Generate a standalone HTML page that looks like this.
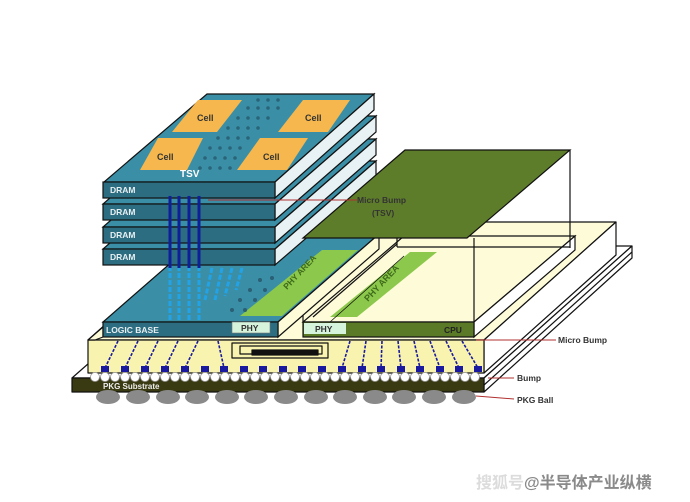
<!DOCTYPE html>
<html><head><meta charset="utf-8"><style>
html,body{margin:0;padding:0;background:#fff;width:690px;height:502px;overflow:hidden}
svg{display:block}
text{font-family:"Liberation Sans",sans-serif;font-weight:bold}
</style></head><body>
<svg width="690" height="502" viewBox="0 0 690 502" xmlns="http://www.w3.org/2000/svg">
<g stroke="#111" stroke-width="1.2" stroke-linejoin="round">
<polygon points="72,378 484,378 632,246 222,246" fill="#fff"/>
<polygon points="484,378 632,246 632,258 484,392" fill="#fff"/>
<line x1="484" y1="385" x2="632" y2="252"/>
<rect x="72" y="378" width="412" height="14" fill="#3a3a12"/>
<polygon points="88,340 484,340 616,222 220,222" fill="#fdfbd8"/>
<polygon points="484,340 616,222 616,255 484,373" fill="#fff"/>
<rect x="88" y="340" width="396" height="33" fill="#f8f3ae"/>
<polygon points="88,340 103,327 103,337 95,340" fill="#fdfbd8"/>
<rect x="232" y="343" width="96" height="15" fill="#f8f3ae"/>
<rect x="240" y="346" width="82" height="8" fill="none"/>
<rect x="252" y="350" width="66" height="5" fill="#111"/>
</g>
<g stroke="#1a1aa0" stroke-width="1.6" stroke-dasharray="3,1.5">
<line x1="118" y1="341" x2="105" y2="368"/><line x1="138" y1="341" x2="125" y2="368"/>
<line x1="158" y1="341" x2="145" y2="368"/><line x1="178" y1="341" x2="165" y2="368"/>
<line x1="198" y1="341" x2="185" y2="368"/><line x1="218" y1="341" x2="224" y2="368"/>
<line x1="350" y1="341" x2="342" y2="368"/><line x1="366" y1="341" x2="362" y2="368"/>
<line x1="382" y1="341" x2="381" y2="368"/><line x1="398" y1="341" x2="401" y2="368"/>
<line x1="414" y1="341" x2="420" y2="368"/><line x1="430" y1="341" x2="440" y2="368"/>
<line x1="446" y1="341" x2="459" y2="368"/><line x1="462" y1="341" x2="478" y2="368"/>
</g>
<g fill="#1a1aa0">
<rect x="101" y="366" width="8" height="6"/><rect x="121" y="366" width="8" height="6"/><rect x="141" y="366" width="8" height="6"/><rect x="161" y="366" width="8" height="6"/><rect x="181" y="366" width="8" height="6"/><rect x="201" y="366" width="8" height="6"/><rect x="220" y="366" width="8" height="6"/><rect x="240" y="366" width="8" height="6"/><rect x="259" y="366" width="8" height="6"/><rect x="279" y="366" width="8" height="6"/><rect x="298" y="366" width="8" height="6"/><rect x="318" y="366" width="8" height="6"/><rect x="338" y="366" width="8" height="6"/><rect x="358" y="366" width="8" height="6"/><rect x="377" y="366" width="8" height="6"/><rect x="397" y="366" width="8" height="6"/><rect x="416" y="366" width="8" height="6"/><rect x="436" y="366" width="8" height="6"/><rect x="455" y="366" width="8" height="6"/><rect x="474" y="366" width="8" height="6"/>
</g>
<g fill="#fff" stroke="#999" stroke-width="0.8">
<circle cx="95" cy="377" r="4.5"/><circle cx="105" cy="377" r="4.5"/><circle cx="115" cy="377" r="4.5"/><circle cx="125" cy="377" r="4.5"/><circle cx="135" cy="377" r="4.5"/><circle cx="145" cy="377" r="4.5"/><circle cx="155" cy="377" r="4.5"/><circle cx="165" cy="377" r="4.5"/><circle cx="175" cy="377" r="4.5"/><circle cx="185" cy="377" r="4.5"/><circle cx="195" cy="377" r="4.5"/><circle cx="205" cy="377" r="4.5"/><circle cx="215" cy="377" r="4.5"/><circle cx="225" cy="377" r="4.5"/><circle cx="235" cy="377" r="4.5"/><circle cx="245" cy="377" r="4.5"/><circle cx="255" cy="377" r="4.5"/><circle cx="265" cy="377" r="4.5"/><circle cx="275" cy="377" r="4.5"/><circle cx="285" cy="377" r="4.5"/><circle cx="295" cy="377" r="4.5"/><circle cx="305" cy="377" r="4.5"/><circle cx="315" cy="377" r="4.5"/><circle cx="325" cy="377" r="4.5"/><circle cx="335" cy="377" r="4.5"/><circle cx="345" cy="377" r="4.5"/><circle cx="355" cy="377" r="4.5"/><circle cx="365" cy="377" r="4.5"/><circle cx="375" cy="377" r="4.5"/><circle cx="385" cy="377" r="4.5"/><circle cx="395" cy="377" r="4.5"/><circle cx="405" cy="377" r="4.5"/><circle cx="415" cy="377" r="4.5"/><circle cx="425" cy="377" r="4.5"/><circle cx="435" cy="377" r="4.5"/><circle cx="445" cy="377" r="4.5"/><circle cx="455" cy="377" r="4.5"/><circle cx="465" cy="377" r="4.5"/><circle cx="475" cy="377" r="4.5"/>
</g>
<g fill="#8a8a8a">
<ellipse cx="108" cy="397" rx="12" ry="7"/><ellipse cx="138" cy="397" rx="12" ry="7"/><ellipse cx="168" cy="397" rx="12" ry="7"/><ellipse cx="197" cy="397" rx="12" ry="7"/><ellipse cx="227" cy="397" rx="12" ry="7"/><ellipse cx="256" cy="397" rx="12" ry="7"/><ellipse cx="286" cy="397" rx="12" ry="7"/><ellipse cx="316" cy="397" rx="12" ry="7"/><ellipse cx="345" cy="397" rx="12" ry="7"/><ellipse cx="375" cy="397" rx="12" ry="7"/><ellipse cx="404" cy="397" rx="12" ry="7"/><ellipse cx="434" cy="397" rx="12" ry="7"/><ellipse cx="464" cy="397" rx="12" ry="7"/>
</g>
<text x="103" y="389" font-size="8" fill="#eee">PKG Substrate</text>

<g stroke="#111" stroke-width="1.2">
<polygon points="303,322 474,322 575,236 404,236" fill="#fdfbd8"/>
<polygon points="474,322 575,236 575,250 474,337" fill="#fff"/>
<polygon points="330,317 357,317 437,252 410,252" fill="#8cc84b" stroke="none"/>
<rect x="303" y="322" width="171" height="15" fill="#5a7a28"/>
<rect x="304" y="323" width="42" height="11" fill="#d6f3dc" stroke="none"/>
<line x1="313" y1="317" x2="397" y2="244"/>
<line x1="330" y1="322" x2="404" y2="256" stroke-width="0.8"/>
<line x1="303" y1="238" x2="303" y2="322"/>
<line x1="474" y1="238" x2="474" y2="322"/>
<line x1="570" y1="150" x2="570" y2="248"/>
<line x1="397" y1="247" x2="570" y2="247"/>
<line x1="397" y1="238" x2="397" y2="247"/>
</g>
<text x="315" y="332" font-size="8.5" fill="#333">PHY</text>
<text x="444" y="333" font-size="8.5" fill="#222">CPU</text>
<text x="0" y="0" font-size="9" fill="#3e6a1c" transform="translate(368,302) rotate(-47)">PHY AREA</text>

<g stroke="#111" stroke-width="1.2">
<polygon points="103,322 278,322 379,234 204,234" fill="#3a8ea6"/>
<polygon points="278,322 379,234 379,249 278,337" fill="#fdfbd8"/>
<polygon points="240,316 282,316 358,250 322,250" fill="#8cc84b" stroke="none"/>
<rect x="103" y="322" width="175" height="15" fill="#2d6d82"/>
<rect x="232" y="322" width="38" height="11" fill="#d6f3dc" stroke="#777" stroke-width="0.6"/>
</g>
<text x="0" y="0" font-size="8.5" fill="#3e6a1c" transform="translate(287,290) rotate(-47)">PHY AREA</text>
<text x="106" y="333" font-size="8.5" fill="#e8f0f2">LOGIC  BASE</text>
<text x="241" y="331" font-size="8.5" fill="#333">PHY</text>
<g stroke="#22a3e8" stroke-width="3" stroke-dasharray="5,2">
<line x1="170" y1="266" x2="170" y2="320"/><line x1="179" y1="266" x2="179" y2="320"/><line x1="189" y1="266" x2="189" y2="320"/><line x1="199" y1="266" x2="199" y2="320"/>
<line x1="212" y1="268" x2="205" y2="300"/><line x1="222" y1="268" x2="215" y2="300"/><line x1="232" y1="268" x2="225" y2="296"/><line x1="242" y1="268" x2="236" y2="290"/>
</g>
<g fill="#2a5f75">
<circle cx="240" cy="300" r="2"/><circle cx="250" cy="290" r="2"/><circle cx="260" cy="280" r="2"/><circle cx="232" cy="310" r="2"/><circle cx="245" cy="310" r="2"/><circle cx="255" cy="300" r="2"/><circle cx="265" cy="290" r="2"/><circle cx="272" cy="278" r="2"/>
</g>

<g stroke="#111" stroke-width="1.2">
<polygon points="103,249 275,249 376,161 204,161" fill="#3a8ea6"/>
<polygon points="275,249 376,161 376,178 275,265" fill="#e8f2f5"/>
<rect x="103" y="249" width="172" height="16" fill="#2d6d82"/>
<polygon points="103,227 275,227 376,139 204,139" fill="#3a8ea6"/>
<polygon points="275,227 376,139 376,155 275,243" fill="#e8f2f5"/>
<rect x="103" y="227" width="172" height="16" fill="#2d6d82"/>
<polygon points="103,204 275,204 376,116 204,116" fill="#3a8ea6"/>
<polygon points="275,204 376,116 376,132 275,220" fill="#e8f2f5"/>
<rect x="103" y="204" width="172" height="16" fill="#2d6d82"/>
<polygon points="104,182 275,182 374,94 207,94" fill="#3a8ea6"/>
<polygon points="275,182 374,94 374,110 275,198" fill="#e8f2f5"/>
<rect x="103" y="182" width="172" height="16" fill="#2d6d82"/>
</g>
<g fill="#f5b74e">
<polygon points="140,170 187,170 203,138 158,138"/>
<polygon points="172,132 217,132 242,100 198,100"/>
<polygon points="237,170 287,170 308,138 260,138"/>
<polygon points="278,132 328,132 350,100 303,100"/>
</g>
<g font-size="9" fill="#333">
<text x="157" y="160">Cell</text><text x="197" y="121">Cell</text><text x="263" y="160">Cell</text><text x="305" y="121">Cell</text>
</g>
<g fill="#2a6478">
<circle cx="200" cy="168" r="1.8"/><circle cx="210" cy="168" r="1.8"/><circle cx="220" cy="168" r="1.8"/><circle cx="230" cy="168" r="1.8"/>
<circle cx="205" cy="158" r="1.8"/><circle cx="215" cy="158" r="1.8"/><circle cx="225" cy="158" r="1.8"/><circle cx="235" cy="158" r="1.8"/>
<circle cx="210" cy="148" r="1.8"/><circle cx="220" cy="148" r="1.8"/><circle cx="230" cy="148" r="1.8"/><circle cx="240" cy="148" r="1.8"/>
<circle cx="218" cy="138" r="1.8"/><circle cx="228" cy="138" r="1.8"/><circle cx="238" cy="138" r="1.8"/><circle cx="248" cy="138" r="1.8"/>
<circle cx="228" cy="128" r="1.8"/><circle cx="238" cy="128" r="1.8"/><circle cx="248" cy="128" r="1.8"/><circle cx="258" cy="128" r="1.8"/>
<circle cx="238" cy="118" r="1.8"/><circle cx="248" cy="118" r="1.8"/><circle cx="258" cy="118" r="1.8"/><circle cx="268" cy="118" r="1.8"/>
<circle cx="248" cy="108" r="1.8"/><circle cx="258" cy="108" r="1.8"/><circle cx="268" cy="108" r="1.8"/><circle cx="278" cy="108" r="1.8"/>
<circle cx="258" cy="100" r="1.8"/><circle cx="268" cy="100" r="1.8"/><circle cx="278" cy="100" r="1.8"/>
</g>
<text x="180" y="177" font-size="10" fill="#fff">TSV</text>
<g font-size="8.5" fill="#e8f0f2">
<text x="110" y="193">DRAM</text><text x="110" y="215">DRAM</text><text x="110" y="238">DRAM</text><text x="110" y="260">DRAM</text>
</g>
<g stroke="#0f1f9a" stroke-width="3">
<line x1="170" y1="196" x2="170" y2="268"/><line x1="179" y1="196" x2="179" y2="268"/><line x1="189" y1="196" x2="189" y2="268"/><line x1="199" y1="196" x2="199" y2="268"/>
</g>

<polygon points="303,238 467,238 570,150 405,150" fill="#5e7d2b" stroke="#111" stroke-width="1.2"/>

<g stroke="#b03030" stroke-width="1">
<line x1="208" y1="200" x2="357" y2="200"/>
<line x1="476" y1="340" x2="556" y2="340"/>
<line x1="488" y1="378" x2="514" y2="378"/>
<line x1="476" y1="396" x2="514" y2="399"/>
</g>
<g font-size="8.5" fill="#333" font-weight="normal">
<text x="357" y="203">Micro Bump</text>
<text x="372" y="216">(TSV)</text>
<text x="558" y="343">Micro Bump</text>
<text x="517" y="381">Bump</text>
<text x="517" y="403">PKG Ball</text>
</g>
<text x="476" y="488" font-size="16" style="font-family:'Liberation Sans','Noto Sans CJK SC',sans-serif"><tspan fill="#dcdcdc">搜狐号</tspan><tspan fill="#8a8a8a">@半导体产业纵横</tspan></text>
</svg>
</body></html>
